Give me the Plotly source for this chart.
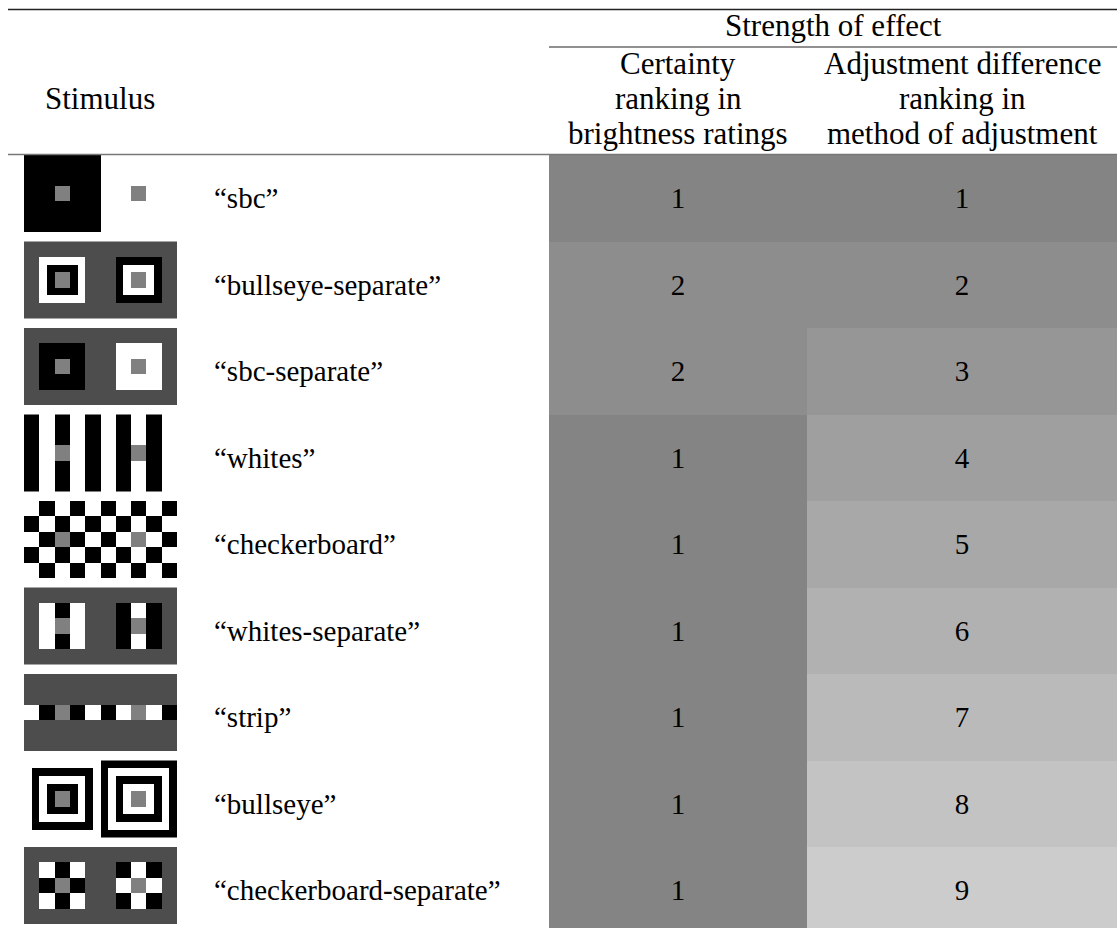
import numpy as np
import plotly.graph_objects as go

# ---------------- data ----------------
stimuli = ["sbc", "bullseye-separate", "sbc-separate", "whites", "checkerboard",
           "whites-separate", "strip", "bullseye", "checkerboard-separate"]
certainty_rank = [1, 2, 2, 1, 1, 1, 1, 1, 1]
adjustment_rank = [1, 2, 3, 4, 5, 6, 7, 8, 9]
stim_header = "Stimulus"
group_header = "Strength of effect"
col1_header = ["Certainty", "ranking in", "brightness ratings"]
col2_header = ["Adjustment difference", "ranking in", "method of adjustment"]

# ---------------- stimulus pictures (10 x 20 unit grids) ----------------
BLACK, WHITE, BG, PATCH = 0, 255, 77, 128


def blank(v):
    return np.full((10, 20), v, dtype=float)


def make_stim(name):
    g = None
    if name == "sbc":
        g = blank(WHITE)
        g[:, 0:10] = BLACK
    elif name == "bullseye-separate":
        g = blank(BG)
        g[2:8, 2:8] = WHITE; g[3:7, 3:7] = BLACK
        g[2:8, 12:18] = BLACK; g[3:7, 13:17] = WHITE
    elif name == "sbc-separate":
        g = blank(BG)
        g[2:8, 2:8] = BLACK
        g[2:8, 12:18] = WHITE
    elif name == "whites":
        g = blank(WHITE)
        for c in range(10):
            if c % 2 == 0:
                g[:, 2 * c:2 * c + 2] = BLACK
    elif name == "checkerboard":
        g = blank(WHITE)
        for r in range(5):
            for c in range(10):
                if (r + c) % 2 == 1:
                    g[2 * r:2 * r + 2, 2 * c:2 * c + 2] = BLACK
    elif name == "whites-separate":
        g = blank(BG)
        g[2:8, 2:8] = WHITE; g[2:8, 4:6] = BLACK
        g[2:8, 12:18] = BLACK; g[2:8, 14:16] = WHITE
    elif name == "strip":
        g = blank(BG)
        for c in range(10):
            g[4:6, 2 * c:2 * c + 2] = WHITE if c % 2 == 0 else BLACK
    elif name == "bullseye":
        g = blank(WHITE)
        g[1:9, 1:9] = BLACK; g[2:8, 2:8] = WHITE; g[3:7, 3:7] = BLACK
        g[0:10, 10:20] = BLACK; g[1:9, 11:19] = WHITE
        g[2:8, 12:18] = BLACK; g[3:7, 13:17] = WHITE
    elif name == "checkerboard-separate":
        g = blank(BG)
        for r in range(3):
            for c in range(3):
                g[2 + 2 * r:4 + 2 * r, 2 + 2 * c:4 + 2 * c] = WHITE if (r + c) % 2 == 0 else BLACK
                g[2 + 2 * r:4 + 2 * r, 12 + 2 * c:14 + 2 * c] = BLACK if (r + c) % 2 == 0 else WHITE
    g[4:6, 4:6] = PATCH
    g[4:6, 14:16] = PATCH
    return g


# ---------------- layout geometry (page pixels) ----------------
W, H = 1117, 928
ROW_TOP0, ROW_H = 155.0, 86.5
IMG_X0, UNIT = 24.0, 7.65
COL_EDGES = [549, 807, 1117]
LABEL_X = 212
FONT = "Liberation Serif, DejaVu Serif, serif"
FS = 29
FS_HEAD = 31

fig = go.Figure()

row_edges = [ROW_TOP0 + ROW_H * i for i in range(len(stimuli) + 1)]

# table cells (ranks)
z = [[c, a] for c, a in zip(certainty_rank, adjustment_rank)]
fig.add_trace(go.Heatmap(
    z=z, x=COL_EDGES, y=row_edges, zmin=1, zmax=9,
    colorscale=[[0, "rgb(132,132,132)"], [1, "rgb(204,204,204)"]],
    showscale=False, texttemplate="%{z}",
    textfont=dict(family=FONT, size=FS, color="black"),
    hoverinfo="skip", xgap=0, ygap=0,
))

# stimulus pictures
for i, name in enumerate(stimuli):
    g = make_stim(name)
    top = row_edges[i]
    xs = [IMG_X0 + UNIT * k for k in range(21)]
    ys = [top + UNIT * k for k in range(11)]
    fig.add_trace(go.Heatmap(
        z=g, x=xs, y=ys, zmin=0, zmax=255,
        colorscale=[[0, "black"], [1, "white"]],
        showscale=False, hoverinfo="skip",
    ))
    fig.add_annotation(x=LABEL_X, y=top + ROW_H / 2, text="\u201c" + name + "\u201d",
                       xanchor="left", yanchor="middle", showarrow=False,
                       font=dict(family=FONT, size=FS, color="black"))


# header text
def head(text, x, baseline):
    fig.add_annotation(x=x, y=baseline - 9, text=text, xanchor="center", yanchor="middle",
                       showarrow=False, font=dict(family=FONT, size=FS_HEAD, color="black"))


head(group_header, (COL_EDGES[0] + COL_EDGES[2]) / 2, 34)
for k, bl in enumerate([72, 107, 142]):
    head(col1_header[k], (COL_EDGES[0] + COL_EDGES[1]) / 2, bl)
    head(col2_header[k], (COL_EDGES[1] + COL_EDGES[2]) / 2, bl)
head(stim_header, 100, 107)

# rules
fig.add_shape(type="line", x0=8, x1=W, y0=9.5, y1=9.5, line=dict(color="#222", width=1.6))
fig.add_shape(type="line", x0=COL_EDGES[0], x1=W, y0=47, y1=47, line=dict(color="#222", width=1.2))
fig.add_shape(type="line", x0=8, x1=W, y0=154.5, y1=154.5, line=dict(color="#777", width=1.4))

fig.update_xaxes(range=[0, W], visible=False, showgrid=False, zeroline=False, fixedrange=True)
fig.update_yaxes(range=[H, 0], visible=False, showgrid=False, zeroline=False, fixedrange=True)
fig.update_layout(width=W, height=H, margin=dict(l=0, r=0, t=0, b=0),
                  paper_bgcolor="white", plot_bgcolor="white", showlegend=False)

# remove the default page margin so the figure fills the window exactly
fig.write_html("out.html",
               config={"displayModeBar": False},
               post_script="document.body.style.margin='0';document.body.style.overflow='hidden';")
